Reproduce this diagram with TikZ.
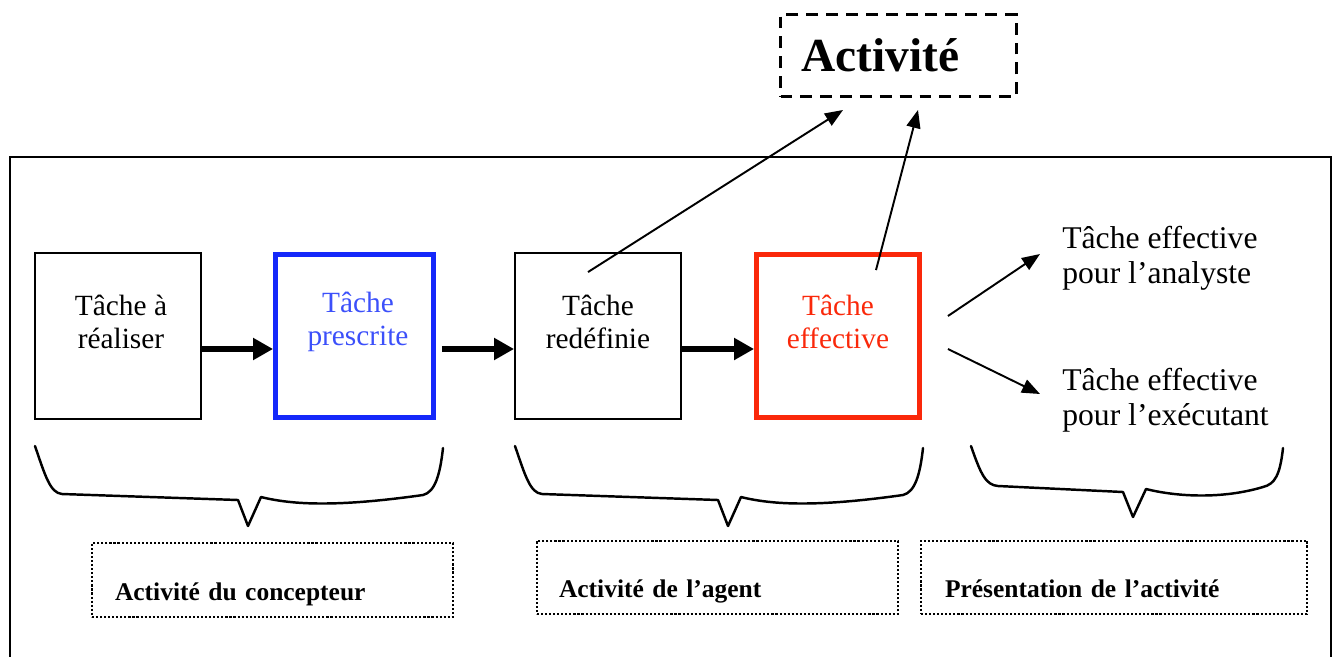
\documentclass[tikz,border=0pt]{standalone}
\usepackage{fontspec}
\setmainfont{Liberation Serif}
\usetikzlibrary{arrows.meta}
\definecolor{prescblue}{RGB}{20,40,250}
\definecolor{presctext}{RGB}{60,80,250}
\definecolor{effred}{RGB}{250,40,10}
\tikzset{tache/.style={draw,line width=1.1pt,minimum width=3.32cm,minimum height=3.32cm,inner sep=0pt},
 tachetxt/.style={align=center,inner sep=0pt,font=\fontsize{16.7}{19}\selectfont},
 sidetxt/.style={align=left,anchor=west,inner sep=0pt,font=\fontsize{18}{20}\selectfont},
 bigarrow/.style={line width=3.4pt,-{Triangle[length=0.4cm,width=0.42cm]}},
 thinarrow/.style={line width=1.1pt,-{Triangle[length=0.36cm,width=0.28cm]}},
 accolade/.style={line width=1.4pt,line join=round,line cap=round},
 labelbox/.style={draw,line width=1.2pt,dash pattern=on 1.2pt off 1.1pt,minimum height=1.47cm,
   align=left,text height=0.9cm,text depth=0.1cm,font=\bfseries\fontsize{14.5}{17}\selectfont}}
\begin{document}
\begin{tikzpicture}[x=0.02cm,y=-0.02cm]
   \useasboundingbox (0,0) rectangle (1337,656);
   \draw[line width=1.1pt] (10,670) -- (10,157) -- (1331,157) -- (1331,670);

   \node[draw,line width=1.7pt,dash pattern=on 6.8pt off 4.5pt,minimum width=4.72cm,minimum height=1.64cm,
     inner xsep=0.42cm,text width=3.88cm,align=left,font=\bfseries\fontsize{27}{30}\selectfont]
     (act) at (898.5,55.5) {Activité};

   \node[tache] (reel) at (118,336) {};
   \node[tache,draw=prescblue,line width=2.8pt,minimum width=3.16cm,minimum height=3.26cm] (presc) at (354.5,336) {};
   \node[tache] (redef) at (598,336) {};
   \node[tache,draw=effred,line width=2.8pt,minimum width=3.26cm,minimum height=3.26cm] (eff) at (838,336) {};

   \node[tachetxt] (reeltxt) at (121,322) {Tâche à\\réaliser};
   \node[tachetxt,text=presctext] (presctxt) at (358,322) {Tâche\\prescrite};
   \node[tachetxt] (redeftxt) at (598,322) {Tâche\\redéfinie};
   \node[tachetxt,text=effred] (efftxt) at (838,322) {Tâche\\effective};

   \node[sidetxt] (ana) at (1062,258) {Tâche effective\\pour l’analyste};
   \node[sidetxt] (exe) at (1062,400) {Tâche effective\\pour l’exécutant};

   \draw[bigarrow] ([yshift=-0.26cm]reel.east) -- ([yshift=-0.26cm]presc.west);
   \draw[bigarrow,shorten <=0.12cm] ([yshift=-0.26cm]presc.east) -- ([yshift=-0.26cm]redef.west);
   \draw[bigarrow] ([yshift=-0.26cm]redef.east) -- ([yshift=-0.26cm]eff.west);

   \draw[thinarrow] ([xshift=-0.2cm,yshift=-0.4cm]redef.north) -- ([xshift=-1.11cm,yshift=-0.24cm]act.south);
   \draw[thinarrow] ([xshift=0.76cm,yshift=-0.36cm]eff.north) -- ([xshift=0.39cm,yshift=-0.24cm]act.south);
   \draw[thinarrow] ([xshift=0.52cm,yshift=0.4cm]eff.east) -- ([xshift=-0.44cm,yshift=0.08cm]ana.west);
   \draw[thinarrow] ([xshift=0.52cm,yshift=-0.26cm]eff.east) -- ([xshift=-0.44cm,yshift=0.12cm]exe.west);

   \foreach \l/\m/\r/\b/\t in {35/248/443/497/526, 515/728/923/497/526, 971/1133/1283/489/517}
    \draw[accolade] (\l,446) .. controls (\l+10,475) and (\l+15,\b-4) .. (\l+27,\b-3)
      -- (\m-10,\b+3) -- (\m,\t) -- (\m+13,\b)
      .. controls (\m+45,\b+8) and (\m+90,\b+10) .. (\r-20,\b-2)
      .. controls (\r-8,\b-5) and (\r-3,475) .. (\r,448);

   \node[labelbox,minimum width=7.22cm,inner xsep=0.46cm,text width=6.3cm] (concep) at (272.5,580) {Activité du concepteur};
   \node[labelbox,minimum width=7.22cm,inner xsep=0.44cm,text width=6.34cm] (agent) at (717.5,577.5) {Activité de l’agent};
   \node[labelbox,minimum width=7.72cm,inner xsep=0.48cm,text width=6.76cm] (present) at (1114,577.5) {Présentation de l’activité};
\end{tikzpicture}
\end{document}
